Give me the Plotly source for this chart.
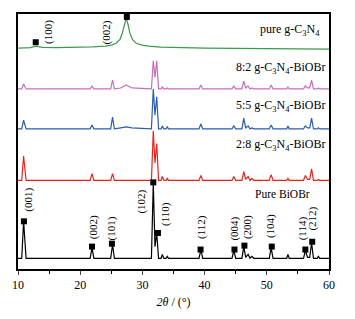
import plotly.graph_objects as go

# ---- data (relative intensities) ----
bi_x = [10.0, 10.6, 10.9, 11.3, 21.6, 21.9, 22.2, 24.9, 25.2, 25.5, 26.5, 27.4, 28.3,
        31.45, 31.75, 32.02, 32.3, 32.6, 33.0, 33.2, 33.45, 33.8, 34.0, 34.2,
        39.1, 39.4, 39.7, 44.4, 44.7, 45.0, 46.0, 46.3, 46.6, 47.0, 47.3, 47.6, 47.9,
        50.4, 50.7, 51.0, 53.2, 53.4, 53.6, 55.9, 56.2, 56.55, 56.9, 57.2, 57.5,
        58.1, 58.3, 58.5, 60.0]
pure_biobr_y = [0, 0, 38, 0, 0, 11, 0, 0, 14, 0, 0, 0, 0,
                0, 77, 12, 26, 0, 0, 4, 0, 0, 2, 0,
                0, 9, 0, 0, 8, 0, 0, 12, 1, 4, 0, 2, 0,
                0, 11, 0, 0, 4, 0, 0, 8, 1, 1, 16, 0,
                0, 2, 0, 0]
r28_y = [0, 0, 25, 0, 0, 7, 0, 0, 7, 0, 0, 0, 0,
         0, 51, 18, 38, 0, 0, 4, 0, 0, 2, 0,
         0, 5, 0, 0, 4, 0, 0, 9, 1, 4, 0, 2, 0,
         0, 6, 0, 0, 2, 0, 0, 5, 1, 1, 12, 0,
         0, 1, 0, 0]
r55_y = [0, 0, 9, 0, 0, 4, 0, 0, 12, 0, 1, 2, 1,
         0, 41, 14, 33, 0, 0, 3, 0, 0, 2, 0,
         0, 5, 0, 0, 3, 0, 0, 11, 1, 3, 0, 1, 0,
         0, 4, 0, 0, 3, 0, 0, 3, 1, 1, 11, 0,
         0, 1, 0, 0]
r82_y = [0, 0, 5, 0, 0, 3, 0, 0, 9, 0, 1, 4, 1,
         0, 29, 12, 29, 0, 0, 2, 0, 0, 1, 0,
         0, 4, 0, 0, 3, 0, 0, 8, 1, 3, 0, 1, 0,
         0, 4, 0, 0, 2, 0, 0, 3, 1, 1, 9, 0,
         0, 1, 0, 0]

gcn_x = [10, 11, 12, 12.6, 12.9, 13.2, 14, 16, 18, 20, 22, 24, 25, 25.8, 26.4, 26.8, 27.1,
         27.4, 27.7, 28.0, 28.4, 29, 30, 31, 33, 36, 40, 45, 50, 55, 60]
gcn_y = [0, 0, 0.5, 1.5, 2, 1.5, 0.8, 0.5, 0.5, 0.8, 1.2, 2, 3, 5, 9, 16, 25,
         31, 24, 15, 9, 5, 3, 2, 1, 0.3, 0, -0.3, -0.6, -0.8, -1]

biobr_hkl = ["(001)", "(002)", "(101)", "(102)", "(110)", "(112)", "(004)", "(200)", "(104)", "(114)", "(212)"]
biobr_mark_x = [10.95, 21.9, 25.1, 31.75, 32.5, 39.35, 44.8, 46.4, 50.8, 56.2, 57.3]
biobr_mark_y = [38, 12, 15, 78, 26, 9, 9, 13, 12, 9, 17]
biobr_lab_x = [11.75, 22.06, 25.0, 29.9, 33.7, 39.4, 44.8, 46.8, 50.5, 55.7, 57.3]
biobr_lab_y = [60, 32, 31, 58, 46, 32, 31, 32, 33, 31, 41]

gcn_hkl = ["(100)", "(002)"]
gcn_mark_x = [12.85, 27.5]
gcn_mark_y = [6, 32]
gcn_lab_x = [14.9, 24.3]
gcn_lab_y = [17, 16]

series_names = ["Pure BiOBr", "2:8 g-C<sub>3</sub>N<sub>4</sub>-BiOBr",
                "5:5 g-C<sub>3</sub>N<sub>4</sub>-BiOBr", "8:2 g-C<sub>3</sub>N<sub>4</sub>-BiOBr",
                "pure g-C<sub>3</sub>N<sub>4</sub>"]

# ---- layout constants ----
offsets = [11, 91, 144, 185, 227]
colors = ["#000000", "#e8231c", "#2b5cb0", "#c76dbb", "#3c9a4c"]
name_pos = [(57.2, 77), (59.6, 127), (59.6, 167), (59.6, 207), (58.8, 246)]
name_size = [11.5, 12, 12, 12, 12]
FONT = "Liberation Serif"

fig = go.Figure()
bi_series = [pure_biobr_y, r28_y, r55_y, r82_y]
for i, ys in enumerate(bi_series):
    fig.add_trace(go.Scatter(x=bi_x, y=[v + offsets[i] for v in ys], mode="lines",
                             line=dict(color=colors[i], width=1.2), showlegend=False))
fig.add_trace(go.Scatter(x=gcn_x, y=[v + offsets[4] for v in gcn_y], mode="lines",
                         line=dict(color=colors[4], width=1.2), showlegend=False))

fig.add_trace(go.Scatter(x=biobr_mark_x, y=[v + offsets[0] for v in biobr_mark_y], mode="markers",
                         marker=dict(symbol="square", size=6, color="black"), showlegend=False))
fig.add_trace(go.Scatter(x=gcn_mark_x, y=[v + offsets[4] for v in gcn_mark_y], mode="markers",
                         marker=dict(symbol="square", size=6, color="black"), showlegend=False,
                         cliponaxis=False))

for t, x, y in zip(biobr_hkl, biobr_lab_x, biobr_lab_y):
    fig.add_annotation(x=x, y=y + offsets[0], text=t, textangle=-90, showarrow=False,
                       font=dict(family=FONT, size=11, color="black"))
for t, x, y in zip(gcn_hkl, gcn_lab_x, gcn_lab_y):
    fig.add_annotation(x=x, y=y + offsets[4], text=t, textangle=-90, showarrow=False,
                       font=dict(family=FONT, size=11, color="black"))
for t, (x, y), s in zip(series_names, name_pos, name_size):
    fig.add_annotation(x=x, y=y, text=t, xanchor="right",
                       showarrow=False, font=dict(family=FONT, size=s, color="black"))

fig.update_layout(
    width=355, height=319, margin=dict(l=14, r=26, t=12, b=45),
    paper_bgcolor="white", plot_bgcolor="white",
    font=dict(family=FONT, size=12, color="black"),
    xaxis=dict(range=[10, 60], dtick=10, tick0=10, ticks="outside", ticklen=4, tickwidth=1,
               showline=True, linewidth=1.5, linecolor="black", mirror=True, showgrid=False,
               zeroline=False, tickfont=dict(family=FONT, size=12),
               minor=dict(dtick=5, ticks="outside", ticklen=3, tickcolor="black"),
               title=dict(text="<i>2θ</i> / (°)", font=dict(family=FONT, size=12), standoff=6)),
    yaxis=dict(range=[0, 262], showticklabels=False, ticks="", showline=True, linewidth=1.5,
               linecolor="black", mirror=True, showgrid=False, zeroline=False),
)
fig.write_html("out.html", config={"displayModeBar": False},
               post_script="document.body.style.margin='0';document.body.style.padding='0';")
